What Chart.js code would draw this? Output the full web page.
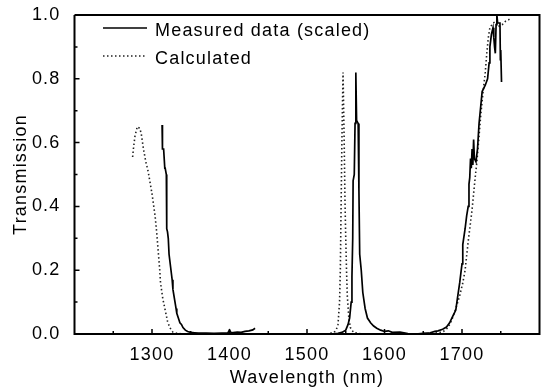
<!DOCTYPE html>
<html lang="en">
<head>
  <meta charset="UTF-8">
  <title>Transmission spectrum</title>
  <script src="https://cdn.jsdelivr.net/npm/chart.js"></script>
  <style>
    html, body { margin: 0; padding: 0; background: #fff; }
    #wrap { width: 542px; height: 390px; }
  </style>
</head>
<body>
  <div id="wrap"><canvas id="chart" width="542" height="390"></canvas></div>

  <script>
    // Measured data (scaled), null = break in the trace
    const measuredWl = [
      1313, 1313.5, 1315, 1316.5, 1317, 1318.5, 1319, 1320, 1321, 1322, 1324, 1326, 1327, 1329, 1331, 1332,
      1334, 1336, 1338, 1340, 1343, 1346, 1350, 1355, 1360, 1370, 1380, 1390, 1398, 1400, 1402, 1410,
      1415, 1420, 1425, 1430, 1433,
      1434,
      1530, 1540, 1545, 1550, 1553, 1555, 1557, 1558, 1559, 1559.5, 1561, 1562, 1563, 1564, 1566, 1567,
      1568, 1570, 1572, 1575, 1578, 1582, 1586, 1590, 1595, 1600, 1605, 1610, 1620, 1625, 1630, 1640,
      1650, 1659, 1665, 1669, 1675, 1680, 1684, 1688, 1692, 1694, 1697, 1700, 1701, 1704, 1706, 1708,
      1709, 1710, 1711, 1712, 1713, 1714, 1715, 1716, 1718, 1720, 1721, 1722, 1724, 1726, 1728, 1730,
      1733, 1735, 1736, 1738, 1740, 1741, 1742, 1743, 1744, 1745, 1746, 1749, 1749.5, 1750, 1751
    ];
    const measuredT = [
      0.655, 0.58, 0.58, 0.52, 0.52, 0.50, 0.33, 0.32, 0.30, 0.25, 0.21, 0.17, 0.14, 0.11, 0.08, 0.065,
      0.05, 0.035, 0.03, 0.02, 0.012, 0.008, 0.005, 0.004, 0.003, 0.003, 0.002, 0.003, 0.004, 0.012, 0.004, 0.006,
      0.005, 0.008, 0.01, 0.013, 0.018,
      null,
      0.0, 0.002, 0.005, 0.012, 0.03, 0.05, 0.1, 0.18, 0.3, 0.48, 0.5, 0.66, 0.82, 0.67, 0.66, 0.45,
      0.25, 0.2, 0.13, 0.08, 0.05, 0.035, 0.025, 0.018, 0.012, 0.008, 0.01, 0.005, 0.006, 0.004, 0.001, 0.0,
      0.002, 0.004, 0.008, 0.01, 0.015, 0.022, 0.035, 0.055, 0.075, 0.11, 0.16, 0.22, 0.28, 0.33, 0.37, 0.40,
      0.47, 0.49, 0.55, 0.52, 0.58, 0.53, 0.61, 0.55, 0.54, 0.58, 0.62, 0.66, 0.71, 0.76, 0.77, 0.78,
      0.80, 0.85, 0.90, 0.94, 0.96, 0.93, 0.90, 0.88, 0.97, 1.0, 0.975, 0.975, 0.86, 0.89, 0.79
    ];

    // Calculated spectrum
    const calcWl = [
      1275, 1276, 1278, 1281, 1284, 1286, 1289, 1292, 1295, 1300, 1304, 1306, 1308, 1310, 1311, 1314,
      1317, 1320, 1323, 1327, 1332, 1340,
      1341,
      1525, 1535, 1538, 1540, 1542, 1543, 1544, 1545, 1546, 1546.5, 1547, 1548, 1549, 1550, 1551, 1552,
      1554, 1556, 1560, 1570,
      1571,
      1640, 1660, 1670, 1676, 1682, 1687, 1692, 1697, 1701, 1704, 1708, 1711, 1713, 1717, 1719, 1722,
      1724, 1727, 1730, 1732, 1734, 1736, 1740, 1744, 1748, 1752, 1756, 1760, 1763
    ];
    const calcT = [
      0.555, 0.58, 0.62, 0.65, 0.645, 0.63, 0.58, 0.54, 0.51, 0.44, 0.37, 0.32, 0.26, 0.2, 0.16, 0.11,
      0.075, 0.04, 0.02, 0.006, 0.002, 0.0,
      null,
      0.0, 0.005, 0.015, 0.03, 0.1, 0.2, 0.4, 0.6, 0.75, 0.82, 0.75, 0.6, 0.42, 0.3, 0.2, 0.12,
      0.05, 0.02, 0.005, 0.0,
      null,
      0.0, 0.002, 0.004, 0.008, 0.02, 0.045, 0.08, 0.12, 0.16, 0.2, 0.29, 0.35, 0.39, 0.49, 0.535, 0.62,
      0.68, 0.755, 0.82, 0.88, 0.93, 0.96, 0.975, 0.98, 0.965, 0.97, 0.98, 0.985, 0.99
    ];

    const xMajor = [1300, 1400, 1500, 1600, 1700];
    const xMinor = [1250, 1350, 1450, 1550, 1650, 1750];
    const yMajor = [0.2, 0.4, 0.6, 0.8];
    const yMinor = [0.1, 0.3, 0.5, 0.7, 0.9];

    const toPoints = (xs, ys) => xs.map((x, i) => ({ x: x, y: ys[i] }));

    Chart.defaults.font.family = 'Arial, "Liberation Sans", sans-serif';
    Chart.defaults.font.size = 18;
    Chart.defaults.color = '#000';

    // slightly wider text, like the stretched original
    const spacing = {
      id: 'spacing',
      beforeUpdate(chart) { chart.ctx.letterSpacing = '1.2px'; },
      beforeDraw(chart) { chart.ctx.letterSpacing = '1.2px'; }
    };

    // frame, inward ticks and the inset legend
    const frame = {
      id: 'frame',
      afterDraw(chart) {
        const { ctx, scales } = chart;
        const x = scales.x, y = scales.y;
        const L = x.getPixelForValue(x.min), R = x.getPixelForValue(x.max);
        const T = y.getPixelForValue(y.max), B = y.getPixelForValue(y.min);
        ctx.save();
        ctx.setLineDash([]);
        ctx.strokeStyle = '#000';
        ctx.lineWidth = 2;
        ctx.beginPath();
        ctx.moveTo(L, T);
        ctx.lineTo(R, T);
        ctx.lineTo(R, B);
        ctx.lineTo(L, B);
        ctx.lineTo(L, T);
        ctx.stroke();

        ctx.lineWidth = 1.5;
        ctx.beginPath();
        xMajor.concat(xMinor).forEach(v => {
          const px = x.getPixelForValue(v);
          const len = xMajor.includes(v) ? 5 : 3;
          ctx.moveTo(px, B);
          ctx.lineTo(px, B - len);
        });
        yMajor.concat(yMinor).forEach(v => {
          const py = y.getPixelForValue(v);
          const len = yMajor.includes(v) ? 5 : 3;
          ctx.moveTo(L, py);
          ctx.lineTo(L + len, py);
        });
        ctx.stroke();

        // legend
        ctx.font = '18px Arial, "Liberation Sans", sans-serif';
        ctx.fillStyle = '#000';
        ctx.textBaseline = 'alphabetic';
        ctx.textAlign = 'left';
        const rows = [28, 56];
        chart.data.datasets.forEach((ds, i) => {
          ctx.strokeStyle = ds.borderColor;
          ctx.lineWidth = ds.borderWidth;
          ctx.setLineDash(ds.borderDash || []);
          ctx.beginPath();
          ctx.moveTo(103, rows[i]);
          ctx.lineTo(147, rows[i]);
          ctx.stroke();
          ctx.setLineDash([]);
          ctx.fillText(ds.label, 155, rows[i] + 7.5);
        });
        ctx.restore();
      }
    };

    new Chart(document.getElementById('chart'), {
      type: 'line',
      data: {
        datasets: [
          {
            label: 'Measured data (scaled)',
            data: toPoints(measuredWl, measuredT),
            borderColor: '#000',
            borderWidth: 1.7,
            pointRadius: 0,
            tension: 0,
            spanGaps: false
          },
          {
            label: 'Calculated',
            data: toPoints(calcWl, calcT),
            borderColor: '#222',
            borderWidth: 1.6,
            borderDash: [1.5, 2.5],
            pointRadius: 0,
            tension: 0,
            spanGaps: false
          }
        ]
      },
      options: {
        responsive: false,
        animation: false,
        layout: { padding: { left: 0, right: 2.5, top: 15, bottom: 0 } },
        plugins: {
          legend: { display: false },
          tooltip: { enabled: false }
        },
        scales: {
          x: {
            type: 'linear',
            min: 1200,
            max: 1800,
            grid: { display: false, drawTicks: false },
            border: { display: false },
            ticks: {
              stepSize: 100,
              padding: 10,
              maxRotation: 0,
              callback: v => (v === 1200 || v === 1800) ? '' : v
            },
            title: { display: true, text: 'Wavelength (nm)', padding: { top: 0, bottom: 1 } },
            afterFit: s => { s.height = 56; s.paddingLeft = 0; s.paddingRight = 0; }
          },
          y: {
            min: 0,
            max: 1,
            grid: { display: false, drawTicks: false },
            border: { display: false },
            ticks: {
              stepSize: 0.2,
              padding: 14,
              callback: v => v.toFixed(1)
            },
            title: { display: true, text: 'Transmission', padding: { top: 10, bottom: 0 } },
            afterFit: s => { s.width = 74.5; s.paddingTop = 0; s.paddingBottom = 0; }
          }
        }
      },
      plugins: [spacing, frame]
    });
  </script>
</body>
</html>
